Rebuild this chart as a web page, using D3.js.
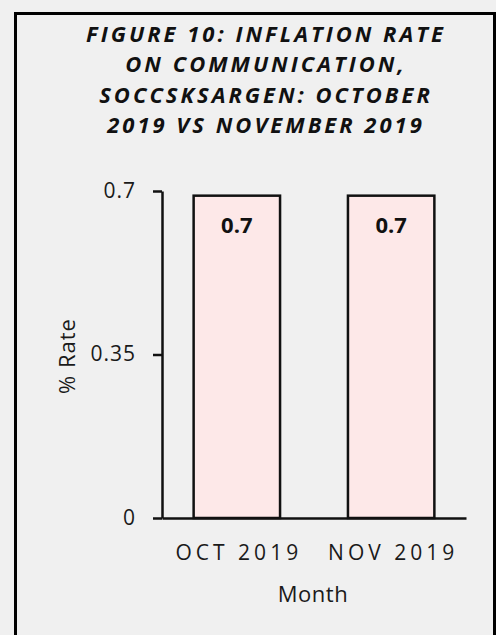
<!DOCTYPE html>
<html>
<head>
<meta charset="utf-8">
<script src="https://cdn.jsdelivr.net/npm/d3@7"></script>
<style>
  html, body { margin: 0; padding: 0; background: #f0f0f0; }
  svg { display: block; }
</style>
</head>
<body>
<script>
const titleLines = ["FIGURE 10: INFLATION RATE", "ON COMMUNICATION,", "SOCCSKSARGEN: OCTOBER", "2019 VS NOVEMBER 2019"];
const categories = ["OCT 2019", "NOV 2019"];
const values = [0.69, 0.69];
const yTicks = [0, 0.35, 0.7];
const yTickLabels = ["0", "0.35", "0.7"];
const xAxisTitle = "Month";
const yAxisTitle = "% Rate";

const W = 496, H = 635;
const svg = d3.select("body").append("svg").attr("width", W).attr("height", H);
svg.append("rect").attr("width", W).attr("height", H).attr("fill", "#f0f0f0");
svg.append("rect").attr("x", 15.5).attr("y", 13.5).attr("width", 479).attr("height", 700)
  .attr("fill", "none").attr("stroke", "#000").attr("stroke-width", 3);

const font = "'Open Sans', sans-serif";
const ink = "#1a1a1a";

// Title
const title = svg.append("g");
titleLines.forEach((t, i) => {
  title.append("text").attr("x", 266).attr("y", 42 + i * 30.3)
    .attr("text-anchor", "middle").attr("font-family", font)
    .attr("font-size", 22).attr("font-weight", 700).attr("font-style", "italic")
    .attr("letter-spacing", 3).attr("fill", "#111").text(t);
});

const x = d3.scaleBand().domain(categories).range([162, 466]).paddingInner(0.44).paddingOuter(0.205);
const y = d3.scaleLinear().domain([0, 0.7]).range([518, 191]);

// Bars
svg.append("g").selectAll("rect").data(categories).join("rect")
  .attr("x", d => x(d)).attr("width", x.bandwidth())
  .attr("y", (d, i) => y(values[i])).attr("height", (d, i) => y(0) - y(values[i]))
  .attr("fill", "#fde8e8").attr("stroke", "#111").attr("stroke-width", 2.5);

// Bar labels
svg.append("g").selectAll("text").data(categories).join("text")
  .attr("x", d => x(d) + x.bandwidth() / 2).attr("y", 233)
  .attr("text-anchor", "middle").attr("font-family", font).attr("font-size", 22)
  .attr("font-weight", 700).attr("fill", "#111")
  .text((d, i) => d3.format(".1f")(values[i]));

// Y axis
const yAxis = svg.append("g").attr("transform", "translate(162,0)")
  .call(d3.axisLeft(y).tickValues(yTicks).tickSize(9).tickSizeOuter(0)
    .tickFormat((d, i) => yTickLabels[i]).tickPadding(17));
yAxis.select(".domain").attr("stroke", "#111").attr("stroke-width", 2.5);
yAxis.selectAll(".tick line").attr("stroke", "#111").attr("stroke-width", 2.5);
yAxis.selectAll(".tick text").attr("font-family", font).attr("font-size", 21)
  .attr("fill", ink).attr("letter-spacing", 1).attr("dy", "0.3em");

// X axis
const xAxis = svg.append("g").attr("transform", "translate(0,518)")
  .call(d3.axisBottom(x).tickSize(0).tickSizeOuter(0).tickPadding(0));
xAxis.select(".domain").attr("stroke", "#111").attr("stroke-width", 2.5);
xAxis.selectAll(".tick text").attr("font-family", font).attr("font-size", 21)
  .attr("fill", ink).attr("letter-spacing", 4).attr("dy", null).attr("y", 42).attr("dx", 2);

// Axis titles
svg.append("text").attr("x", 313).attr("y", 602).attr("text-anchor", "middle")
  .attr("font-family", font).attr("font-size", 22).attr("letter-spacing", 0.5).attr("fill", ink).text(xAxisTitle);
svg.append("text").attr("transform", "translate(75,356) rotate(-90)").attr("text-anchor", "middle")
  .attr("font-family", font).attr("font-size", 22).attr("letter-spacing", 1).attr("fill", ink).text(yAxisTitle);
</script>
</body>
</html>
